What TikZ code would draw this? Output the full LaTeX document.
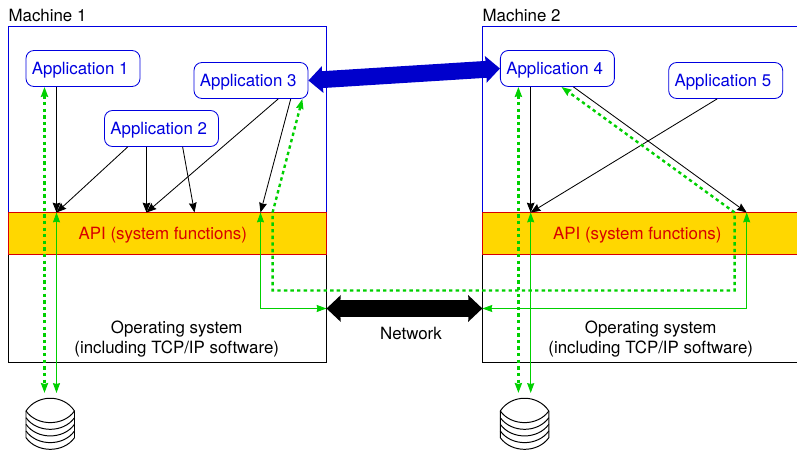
\documentclass[tikz,border=0pt]{standalone}
\usepackage{fontspec}
\setmainfont{TeX Gyre Heros}
\usetikzlibrary{arrows.meta,calc}
\definecolor{boxblue}{HTML}{0000E0}
\definecolor{fatblue}{HTML}{0000CC}
\definecolor{apigold}{HTML}{FFD700}
\definecolor{apired}{HTML}{D80000}
\definecolor{flowgreen}{HTML}{00D000}
\tikzset{
    every node/.style={font=\fontsize{12}{14}\selectfont},
    appbox/.style={draw=boxblue,text=boxblue,fill=white,rounded corners=0.2cm,line width=0.6pt,minimum width=2.85cm,minimum height=0.9cm,inner sep=0pt,text height=12pt,text depth=2.8pt,execute at end node=\hspace{4pt}},
    apibox/.style={draw=apired,fill=apigold,line width=0.6pt,minimum width=7.95cm,minimum height=1.05cm,inner sep=0pt},
    apilabel/.style={text=apired,inner sep=0pt},
    plainlabel/.style={align=center,inner sep=0pt},
    call/.style={black,line width=0.6pt,-{Stealth[length=7pt,width=5.5pt,inset=0.8pt]}},
    flow/.style={flowgreen,line width=0.7pt,{Stealth[length=7pt,width=5pt,inset=0.6pt]}-{Stealth[length=7pt,width=5pt,inset=0.6pt]}},
    dotflow/.style={flowgreen,line width=1.7pt,dash pattern=on 2.4pt off 2.3pt,{Stealth[length=7pt,width=5pt,inset=0.6pt]}-{Stealth[length=7pt,width=5pt,inset=0.6pt]}},
    fatlink/.style={line width=12pt,{Stealth[length=10pt,width=18.5pt,inset=0.5pt]}-{Stealth[length=10pt,width=18.5pt,inset=0.5pt]}},
    disk/.style={black,line width=0.7pt}
}
\begin{document}
\begin{tikzpicture}[x=0.025cm,y=-0.025cm]
    \useasboundingbox (0,0) rectangle (797,451);
    \clip (0,0) rectangle (797,451);

    % the two machines
    \draw[boxblue,line width=0.6pt] (8.3,212.5) -- (8.3,26.5) -- (326.5,26.5) -- (326.5,212.5);
    \draw[boxblue,line width=0.6pt] (482.4,212.5) -- (482.4,26.5) -- (810,26.5);
    \draw[line width=0.6pt] (8.3,254.7) -- (8.3,362.5) -- (326.5,362.5) -- (326.5,254.7);
    \draw[line width=0.6pt] (482.4,254.7) -- (482.4,362.5) -- (810,362.5);

    \node[plainlabel,anchor=west] (machine1) at (8.3,15) {Machine 1};
    \node[plainlabel,anchor=west] (machine2) at (482.4,15) {Machine 2};

    \node[apibox] (api1) at (167.4,233.6) {};
    \node[apibox] (api2) at (641.4,233.6) {};
    \node[apilabel] (apitext1) at (162.8,235.5) {API (system functions)};
    \node[apilabel] (apitext2) at (637.3,235.5) {API (system functions)};

    \node[plainlabel] (os1) at (176.7,339) {Operating system\\(including TCP/IP software)};
    \node[plainlabel] (os2) at (650.7,339) {Operating system\\(including TCP/IP software)};
    \node[plainlabel] (network) at (411,333) {Network};

    \node[appbox] (app1) at (83,68.5) {Application 1};
    \node[appbox] (app2) at (161.5,128.5) {Application 2};
    \node[appbox] (app3) at (251,80.5) {Application 3};
    \node[appbox] (app4) at (557.4,68.5) {Application 4};
    \node[appbox] (app5) at (725.7,80.5) {Application 5};

    % where the arrows meet the API band and the disks
    \coordinate (api1a) at (56.5,212.5);
    \coordinate (api1b) at (146.5,212.5);
    \coordinate (api1c) at (194.5,212.5);
    \coordinate (api1d) at (260.5,212.5);
    \coordinate (api1e) at (272.6,212.5);
    \coordinate (api2a) at (530.7,212.5);
    \coordinate (api2b) at (734.6,212.5);
    \coordinate (api2c) at (746.7,212.5);
    \coordinate (disk1) at (44.5,393);
    \coordinate (disk2) at (518.4,393);
    \coordinate (os1r) at (326.5,308.5);
    \coordinate (os2l) at (482.4,308.5);

    \draw[call] (app1.south -| api1a) -- (api1a);
    \draw[call] ($(app2.south west)!0.206!(app2.south east)$) -- (api1a);
    \draw[call] (app2.south -| api1b) -- (api1b);
    \draw[call] ($(app2.south west)!0.684!(app2.south east)$) -- (api1c);
    \draw[call] ($(app3.south west)!0.737!(app3.south east)$) -- (api1b);
    \draw[call] ($(app3.south west)!0.846!(app3.south east)$) -- (api1d);
    \draw[call] (app4.south -| api2a) -- (api2a);
    \draw[call] ($(app5.south west)!0.425!(app5.south east)$) -- (api2a);
    \draw[call] ($(app4.south west)!0.64!(app4.south east)$) -- (api2c);

    \draw[flow] (api1a) -- (api1a |- disk1);
    \draw[flow] (api2a) -- (api2a |- disk2);
    \draw[flow] (api1d) |- (os1r);
    \draw[flow] (api2c) |- (os2l);

    \draw[dotflow] (app1.south -| disk1) -- (disk1);
    \draw[dotflow] (app4.south -| disk2) -- (disk2);
    \draw[dotflow] ($(app3.south west)!0.947!(app3.south east)$) -- (api1e) -- (272.6,290.5) -- (734.6,290.5) -- (api2b) -- ($(app4.south west)!0.535!(app4.south east)$);

    \draw[fatlink,fatblue] (app3.east) -- (app4.west);
    \draw[fatlink,black] (os1r) -- (os2l);

    % the disks
    \foreach \dx in {26,500.3} {
        \draw[disk] (\dx,438) -- (\dx,411) .. controls (\dx+11,394) and (\dx+37.5,394) .. (\dx+48.5,411) -- (\dx+48.5,438);
        \foreach \dy in {411,417.7,424.3,431,437.7} {
            \draw[disk] (\dx,\dy) .. controls (\dx+11,\dy+15.5) and (\dx+37.5,\dy+15.5) .. (\dx+48.5,\dy);
        }
    }
\end{tikzpicture}
\end{document}
